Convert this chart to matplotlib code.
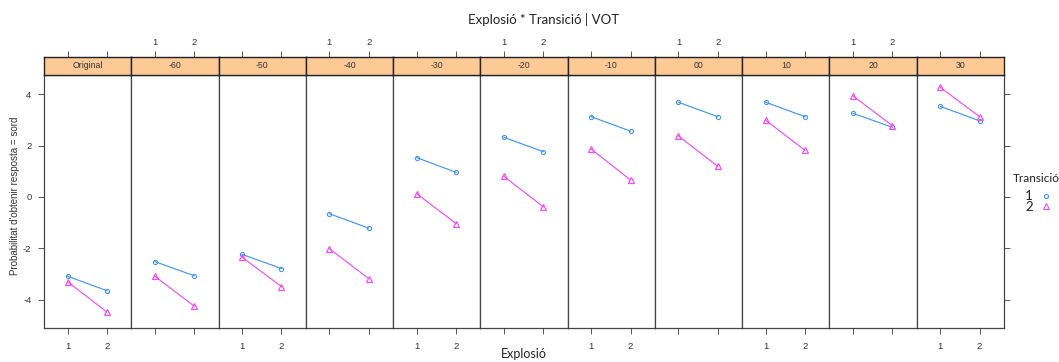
import matplotlib.pyplot as plt

# VOT conditions (one panel each) and the two levels of Explosió
vot = ['Original', '-60', '-50', '-40', '-30', '-20', '-10', '00', '10', '20', '30']
explosio = [1, 2]

# estimated values per panel: [Explosió=1, Explosió=2]
trans1 = [[-3.08, -3.64], [-2.51, -3.06], [-2.23, -2.78], [-0.65, -1.21],
          [1.53, 0.96], [2.32, 1.76], [3.12, 2.56], [3.68, 3.12],
          [3.68, 3.12], [3.25, 2.71], [3.52, 2.96]]
trans2 = [[-3.29, -4.47], [-3.08, -4.24], [-2.34, -3.48], [-2.01, -3.17],
          [0.13, -1.03], [0.80, -0.38], [1.86, 0.66], [2.37, 1.19],
          [2.98, 1.81], [3.93, 2.77], [4.26, 3.12]]

yticks = [-4, -2, 0, 2, 4]

W, H = 1059, 362
col1 = '#4a95e6'
col2 = '#ee52ee'
strip_col = '#fdca96'
frame_col = '#444444'
tick_font = 'Liberation Sans'
head_font = 'Lato'

fig = plt.figure(figsize=(W / 100, H / 100), dpi=100)
fig.patch.set_facecolor('white')

left, right = 44, 1004
top_panel, bottom_panel = 75, 328
strip_top = 57
n = len(vot)
pw = (right - left) / n


def box(x0, y0, x1, y1):
    return [x0 / W, 1 - y1 / H, (x1 - x0) / W, (y1 - y0) / H]


for i, name in enumerate(vot):
    x0 = left + i * pw
    ax = fig.add_axes(box(x0, top_panel, x0 + pw, bottom_panel))
    ax.plot(explosio, trans1[i], color=col1, lw=0.85, marker='o', ms=3.0,
            mfc='none', mec=col1, mew=0.8)
    ax.plot(explosio, trans2[i], color=col2, lw=0.85, marker='^', ms=5,
            mfc='none', mec=col2, mew=0.9)
    ax.set_xlim(0.4, 2.62)
    ax.set_ylim(-5.09, 4.74)
    for s in ax.spines.values():
        s.set_color(frame_col)
        s.set_linewidth(0.9)

    ax.set_xticks(explosio)
    ax.tick_params(axis='x', direction='out', length=4, width=0.7,
                   color='#555555', labelsize=6.8, pad=6,
                   labelcolor='#333333')
    if i % 2 == 1:
        ax.set_xticklabels([])
    else:
        ax.set_xticklabels([str(v) for v in explosio], fontfamily=tick_font)

    ax.set_yticks(yticks)
    ax.tick_params(axis='y', direction='out', length=4, width=0.7,
                   color='#555555', labelsize=6.8, pad=5,
                   labelcolor='#333333')
    if i == 0:
        ax.set_yticklabels([str(v) for v in yticks], fontfamily=tick_font)
    elif i == n - 1:
        ax.yaxis.tick_right()
        ax.set_yticklabels([])
    else:
        ax.tick_params(axis='y', left=False, labelleft=False)

    # strip above each panel, with the top tick marks
    st = fig.add_axes(box(x0, strip_top, x0 + pw, top_panel))
    st.set_facecolor(strip_col)
    st.set_xlim(0.4, 2.62)
    st.set_ylim(0, 1)
    st.set_yticks([])
    st.xaxis.tick_top()
    st.set_xticks(explosio)
    st.tick_params(axis='x', direction='out', length=4, width=0.7,
                   color='#555555', labelsize=6.8, pad=3,
                   labelcolor='#333333')
    if i % 2 == 1:
        st.set_xticklabels([str(v) for v in explosio], fontfamily=tick_font)
    else:
        st.set_xticklabels([])
    for s in st.spines.values():
        s.set_color('#222222')
        s.set_linewidth(1.0)
    st.text(0.5, 0.5, name, transform=st.transAxes, ha='center',
            va='center', fontsize=6.3, fontfamily=tick_font,
            color='#333333')

fig.text(544 / W, 1 - 20 / H, 'Explosió * Transició | VOT', ha='center',
         va='center', fontsize=9.5, fontfamily=head_font, color='#222222')
fig.text(524 / W, 1 - 354 / H, 'Explosió', ha='center', va='center',
         fontsize=9, fontfamily=head_font, color='#222222')
fig.text(15 / W, 1 - 196 / H, "Probabilitat d'obtenir resposta = sord",
         rotation=90, ha='center', va='center', fontsize=7,
         fontfamily=tick_font, color='#333333')

# legend for Transició
fig.text(1036 / W, 1 - 178 / H, 'Transició', ha='center', va='center',
         fontsize=8.5, fontfamily=head_font, color='#222222')
fig.text(1029 / W, 1 - 196 / H, '1', ha='center', va='center',
         fontsize=9.5, fontfamily=head_font, color='#222222')
fig.text(1029 / W, 1 - 207 / H, '2', ha='center', va='center',
         fontsize=9.5, fontfamily=head_font, color='#222222')
fig.lines.append(plt.Line2D([1046 / W], [1 - 196 / H], transform=fig.transFigure,
                            marker='o', ms=3.0, mfc='none', mec=col1, mew=0.8,
                            ls='none'))
fig.lines.append(plt.Line2D([1046 / W], [1 - 206 / H], transform=fig.transFigure,
                            marker='^', ms=4.5, mfc='none', mec=col2, mew=0.8,
                            ls='none'))

fig.savefig('out.png', dpi=100, facecolor='white')
